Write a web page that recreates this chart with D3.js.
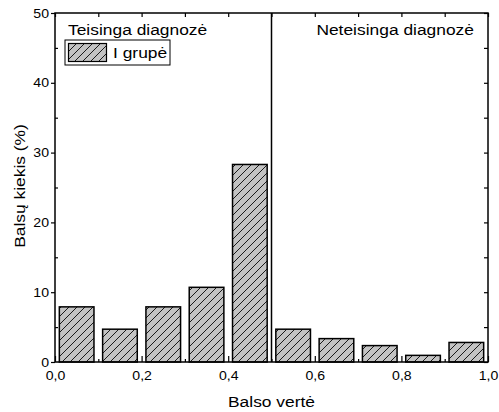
<!DOCTYPE html>
<html><head><meta charset="utf-8">
<script src="https://cdn.jsdelivr.net/npm/d3@7"></script>
<style>body{margin:0;background:#fff}svg{display:block}text{font-family:"Liberation Sans",Arial,sans-serif;fill:#000}</style>
</head><body>
<script>
const binStarts = [0.0,0.1,0.2,0.3,0.4,0.5,0.6,0.7,0.8,0.9];
const values = [7.9,4.7,7.9,10.7,28.3,4.7,3.35,2.35,0.95,2.8];
const xTickValues = [0,0.2,0.4,0.6,0.8,1.0];
const xTickLabels = ["0,0","0,2","0,4","0,6","0,8","1,0"];
const yTickValues = [0,10,20,30,40,50];
const leftLabel = "Teisinga diagnozė";
const rightLabel = "Neteisinga diagnozė";
const legendLabel = "I grupė";
const xTitle = "Balso vertė";
const yTitle = "Balsų kiekis (%)";

const W=499,H=412, L=55,R=488,T=13,B=362, SX=1.13;
const svg=d3.select("body").append("svg").attr("width",W).attr("height",H);
const defs=svg.append("defs");
const pat=defs.append("pattern").attr("id","hatch").attr("patternUnits","userSpaceOnUse").attr("width",8).attr("height",8);
pat.append("rect").attr("width",8).attr("height",8).attr("fill","#c3c3c3");
pat.append("path").attr("d","M-2,2 L2,-2 M0,8 L8,0 M6,10 L10,6").attr("stroke","#1a1a1a").attr("stroke-width",1);

const x=d3.scaleLinear().domain([0,1]).range([L,R]);
const y=d3.scaleLinear().domain([0,50]).range([B,T]);

function label(px,py,txt,size,anchor,rot){
  return svg.append("text")
    .attr("transform",`translate(${px},${py})${rot?` rotate(${rot})`:""} scale(${SX},1)`)
    .attr("font-size",size).attr("text-anchor",anchor||"start").text(txt);
}

// bars
svg.append("g").selectAll("rect").data(binStarts).join("rect")
  .attr("x",d=>x(d+0.01)).attr("width",d=>x(d+0.09)-x(d+0.01))
  .attr("y",(d,i)=>y(values[i])).attr("height",(d,i)=>y(0)-y(values[i]))
  .attr("fill","url(#hatch)").attr("stroke","#000").attr("stroke-width",1.5);

// axes
const fmt=d=>xTickLabels[xTickValues.indexOf(d)];
const gx=svg.append("g").attr("transform",`translate(0,${B})`)
  .call(d3.axisBottom(x).tickValues(xTickValues).tickFormat(fmt).tickSize(-6).tickPadding(9));
const gxm=svg.append("g").attr("transform",`translate(0,${B})`)
  .call(d3.axisBottom(x).tickValues(d3.range(0.1,1,0.2)).tickFormat("").tickSize(-3));
const gxt=svg.append("g").attr("transform",`translate(0,${T})`)
  .call(d3.axisTop(x).tickValues(d3.range(0,1.01,0.1)).tickFormat("").tickSize(-4));
const gy=svg.append("g").attr("transform",`translate(${L},0)`)
  .call(d3.axisLeft(y).tickValues(yTickValues).tickSize(4).tickPadding(2));
const gym=svg.append("g").attr("transform",`translate(${L},0)`)
  .call(d3.axisLeft(y).tickValues(d3.range(5,50,10)).tickFormat("").tickSize(-3));
const gyr=svg.append("g").attr("transform",`translate(${R},0)`)
  .call(d3.axisRight(y).tickValues(d3.range(0,51,5)).tickFormat("").tickSize(-4));
[gx,gxm,gxt,gy,gym,gyr].forEach(g=>{
  g.select(".domain").remove();
  g.selectAll("line").attr("stroke","#000").attr("stroke-width",1.2);
  g.selectAll("text").attr("font-size",12.5).attr("fill","#000")
    .style("font-family","'Liberation Sans',Arial,sans-serif")
    .attr("transform",`scale(${SX},1)`);
});
// keep label positions after scaling
gx.selectAll(".tick text").attr("transform",null).each(function(){
  d3.select(this).attr("transform",`scale(${SX},1)`).attr("x",0);
});
gy.selectAll(".tick text").attr("x",-6/SX);

svg.append("rect").attr("x",L).attr("y",T).attr("width",R-L).attr("height",B-T)
  .attr("fill","none").attr("stroke","#000").attr("stroke-width",1.5);
svg.append("line").attr("x1",x(0.5)).attr("x2",x(0.5)).attr("y1",T).attr("y2",B)
  .attr("stroke","#000").attr("stroke-width",1.5);

label(68,35,leftLabel,15.4);
label(474,35,rightLabel,15.4,"end");

// legend
svg.append("rect").attr("x",65).attr("y",40).attr("width",105).attr("height",25).attr("fill","#fff").attr("stroke","#000").attr("stroke-width",1);
svg.append("rect").attr("x",68.5).attr("y",43.5).attr("width",38).attr("height",18).attr("fill","url(#hatch)").attr("stroke","#000").attr("stroke-width",1.2);
label(113,58,legendLabel,15.4);

label((L+R)/2,407,xTitle,15.4,"middle");
label(24.5,186,yTitle,15.4,"middle",-90);
</script>
</body></html>
